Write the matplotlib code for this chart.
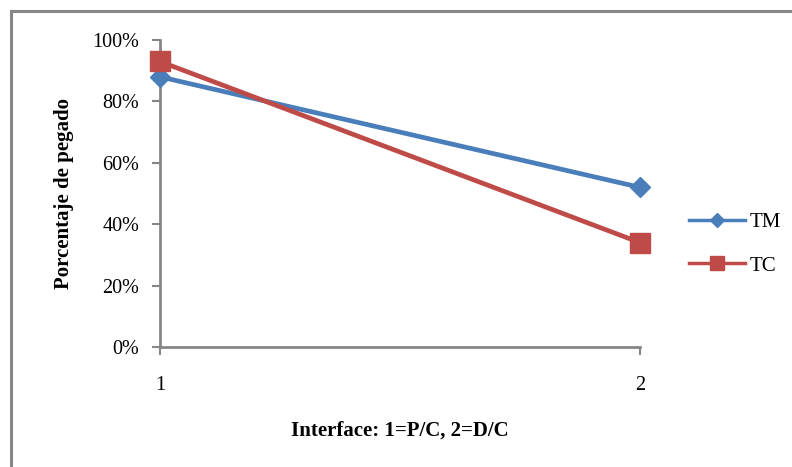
import matplotlib
matplotlib.use("Agg")
import matplotlib.pyplot as plt
from matplotlib.lines import Line2D
from matplotlib.ticker import PercentFormatter

categories = [1, 2]
tm_values = [88, 52]
tc_values = [93, 34]
y_ticks = [0, 20, 40, 60, 80, 100]

plt.rcParams['font.family'] = ['Liberation Serif', 'DejaVu Serif']

W, H = 792, 467
fig = plt.figure(figsize=(W / 100, H / 100), dpi=100)

# chart area frame (only left and top edges fall inside the image)
fig.add_artist(Line2D([10.5 / W, 10.5 / W], [0, 1 - 11 / H],
                      transform=fig.transFigure, color='#868686', lw=2.2))
fig.add_artist(Line2D([10.5 / W, 1], [1 - 11 / H, 1 - 11 / H],
                      transform=fig.transFigure, color='#868686', lw=2.2))

ax = fig.add_axes([160 / W, 1 - 347 / H, 480 / W, 307 / H])

ax.plot(categories, tm_values, color='#4a7ebb', lw=3.4, marker='D',
        markersize=10, label='TM', clip_on=False, zorder=3)
ax.plot(categories, tc_values, color='#be4b48', lw=3.4, marker='s',
        markersize=14, label='TC', clip_on=False, zorder=3)

ax.set_xlim(1, 2)
ax.set_ylim(0, 100)
ax.set_xticks(categories)
ax.set_yticks(y_ticks)
ax.yaxis.set_major_formatter(PercentFormatter(decimals=0))

for side in ('top', 'right'):
    ax.spines[side].set_visible(False)
for side in ('left', 'bottom'):
    ax.spines[side].set_color('#868686')
    ax.spines[side].set_linewidth(2)

ax.tick_params(axis='y', direction='out', length=6, width=1.5, color='#868686',
               labelsize=14.5, pad=9)
ax.tick_params(axis='x', direction='out', length=6, width=1.5, color='#868686',
               labelsize=14.5, pad=15)

ax.set_ylabel('Porcentaje de pegado', fontsize=15, fontweight='bold', labelpad=13)
ax.set_xlabel('Interface: 1=P/C, 2=D/C', fontsize=15, fontweight='bold', labelpad=18)

leg = ax.legend(loc='upper left', bbox_to_anchor=(1.085, 0.465), frameon=False,
                fontsize=15, handlelength=2.7, labelspacing=1.15,
                handletextpad=0.2, borderaxespad=0)
for h in leg.legend_handles:
    h.set_linewidth(2.5)
    h.set_markersize(7 if h.get_marker() == 'D' else 10)

fig.savefig('out.png', dpi=100)
